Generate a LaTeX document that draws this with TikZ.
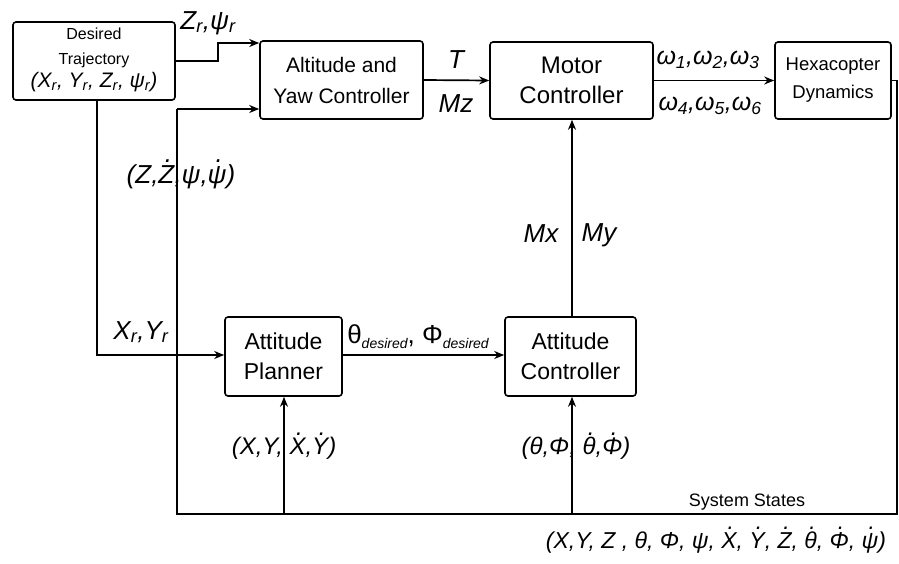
\documentclass[tikz,border=0pt]{standalone}
\usepackage{fontspec}
\setmainfont{Liberation Sans}
\usetikzlibrary{arrows.meta,calc}
\newcommand\dotover[1]{{\setbox0\hbox{#1}\hbox to\wd0{\hss\raisebox{0.80em}{\kern0.16em.}\hss}\kern-\wd0\box0}}
\newcommand\sbs[1]{\textsubscript{#1}}
\newcommand\dsub{{\fontsize{14}{14}\selectfont\itshape\raisebox{-5pt}{desired}}}
\begin{document}
\begin{tikzpicture}[x=1pt,y=-1pt,
  box/.style={draw, line width=1.6pt, rounded corners=3pt, inner sep=0pt, align=center},
  ln/.style={line width=1.7pt},
  arr/.style={ln, -{Stealth[length=10pt,width=8pt]}},
  lbl/.style={inner sep=0pt, font=\itshape\fontsize{26}{30}\selectfont}]
\useasboundingbox (0,0) rectangle (899,563);
\fill[white] (0,0) rectangle (899,563);

% blocks
\node[box, minimum width=162pt, minimum height=78pt] (dt) at (94,61) {};
\node[inner sep=0pt, align=center, font=\fontsize{16}{25}\selectfont] (dtt) at (94,60)
  {Desired\\Trajectory\\[-2pt]{\itshape\fontsize{21}{24}\selectfont (X\sbs{r}, Y\sbs{r}, Z\sbs{r}, ψ\sbs{r})}};
\node[box, minimum width=163pt, minimum height=78pt, font=\fontsize{21}{31}\selectfont] (alt) at (341.5,80) {Altitude and\\Yaw Controller};
\node[box, minimum width=163pt, minimum height=77pt, font=\fontsize{24}{30}\selectfont] (mc) at (571.5,80.5) {Motor\\Controller};
\node[box, minimum width=116pt, minimum height=77pt, font=\fontsize{18.5}{28}\selectfont] (hx) at (833,80.5) {Hexacopter\\Dynamics};
\node[box, minimum width=117pt, minimum height=79pt, font=\fontsize{23}{30}\selectfont] (ap) at (283.5,356.5) {Attitude\\Planner};
\node[box, minimum width=131pt, minimum height=79pt, font=\fontsize{23}{30}\selectfont] (ac) at (570.5,356.5) {Attitude\\Controller};

% coordinates
\coordinate (c1) at (218,61);
\coordinate (c2) at (218,43);
\coordinate (c3) at (97,355);
\coordinate (fr) at (897,80.5);
\coordinate (fb) at (897,514);
\coordinate (fl) at (177,514);
\coordinate (fu) at (177,109);
\coordinate (fp) at (284,514);
\coordinate (fa) at (572,514);

% connectors
\draw[arr] (dt.east |- c1) -- (c1) -- (c2) -- (alt.west |- c2);
\draw[arr] (dt.south -| c3) -- (c3) -- (ap.west |- c3);
\draw[arr] (alt.east) -- (mc.west);
\draw[arr] (mc.east) -- (hx.west);
\draw[arr] (ap.east |- c3) -- (ac.west |- c3);
\draw[arr] (ac.north -| fa) -- (mc.south -| fa);
\draw[ln] (hx.east) -- (fr) -- (fb) -- (fl) -- (fu);
\draw[arr] (fu) -- (alt.west |- fu);
\draw[arr] (fp) -- (ap.south -| fp);
\draw[arr] (fa) -- (ac.south -| fa);

% labels
\node[lbl] (lzr) at (208,23) {Z\sbs{r},ψ\sbs{r}};
\node[lbl] (lz) at (181,174) {(Z,\dotover{Z},ψ,\dotover{ψ})};
\node[lbl] (lt) at (456,60) {T};
\node[lbl] (lmz) at (456,104) {Mz};
\node[lbl, font=\itshape\fontsize{25}{30}\selectfont] (lw1) at (708,60) {ω\sbs{1},ω\sbs{2},ω\sbs{3}};
\node[lbl, font=\itshape\fontsize{25}{30}\selectfont] (lw4) at (710,106) {ω\sbs{4},ω\sbs{5},ω\sbs{6}};
\node[lbl] (lmx) at (541,234) {Mx};
\node[lbl] (lmy) at (599,235) {My};
\node[lbl] (lxr) at (141,332) {X\sbs{r},Y\sbs{r}};
\node[lbl, font=\fontsize{26}{30}\selectfont] (lth) at (418,337) {θ\dsub, Φ\dsub};
\node[lbl, font=\itshape\fontsize{24}{30}\selectfont] (lxy) at (284,446) {(X,Y, \dotover{X},\dotover{Y})};
\node[lbl, font=\itshape\fontsize{24}{30}\selectfont] (lthp) at (576,446) {(θ,Φ, \dotover{θ},\dotover{Φ})};
\node[inner sep=0pt, font=\fontsize{18}{20}\selectfont] (lss) at (747,502) {System States};
\node[lbl, font=\itshape\fontsize{23}{28}\selectfont] (lall) at (716,540) {(X,Y, Z , θ, Φ, ψ, \dotover{X}, \dotover{Y}, \dotover{Z}, \dotover{θ}, \dotover{Φ}, \dotover{ψ})};
\end{tikzpicture}
\end{document}
